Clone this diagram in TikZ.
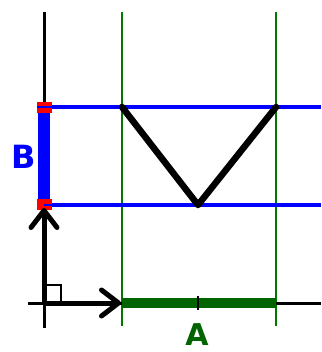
\documentclass[tikz,border=0pt]{standalone}
\usepackage{fontspec}
\setmainfont{DejaVu Sans}
\usetikzlibrary{arrows.meta}
\definecolor{darkgreen}{RGB}{0,100,0}
\definecolor{axisgreen}{RGB}{0,120,0}
\tikzset{
    vec/.style={line width=5pt, -{Straight Barb[length=17pt, width=26pt, line width=5pt, round]}},
    gridline/.style={line width=2.6pt, axisgreen},
    levelline/.style={line width=4.4pt, blue}
}
\begin{document}
\begin{tikzpicture}[x=1pt, y=-1pt]
        \useasboundingbox (0,0) rectangle (321,352);
        % Points
        \coordinate (O) at (44, 303);
        \coordinate (Ytop) at (44, 12);
        \coordinate (Ybot) at (44, 328);
        \coordinate (Xl) at (28, 303);
        \coordinate (Xr) at (321, 303);
        \coordinate (P) at (122, 107);
        \coordinate (Q) at (198, 205);
        \coordinate (R) at (276, 107);
        \coordinate (Bt) at (44, 107);
        \coordinate (Bb) at (44, 205);
        \coordinate (Ex) at (121, 303);
        \coordinate (Ey) at (44, 208);

        % Grid lines
        \draw[gridline] (122, 12) -- (122, 326);
        \draw[gridline] (276, 12) -- (276, 326);
        \draw[levelline] (Bt) -- (321, 107);
        \draw[levelline] (Bb) -- (321, 205);
        \draw[line width=3pt] (Ytop) -- (Ybot);
        \draw[line width=3pt] (Xl) -- (Xr);

        % Segments
        \draw[line width=10pt, darkgreen] (122, 303) -- (276, 303);
        \draw[line width=2.6pt] (198, 296) -- (198, 310);
        \draw[line width=12pt, blue] (Bt) -- (Bb);
        \fill[red] (37, 102) rectangle (52, 113);
        \fill[red] (37, 199) rectangle (52, 210);
        \draw[line width=2.6pt, blue] (37, 107) -- (52, 107);
        \draw[line width=2.6pt, blue] (44, 205) -- (52, 205);

        % V shape
        \draw[line width=6.5pt, line join=round, line cap=round] (P) -- (Q) -- (R);

        % Vectors
        \draw[vec] (O) -- (Ex);
        \draw[vec] (O) -- (Ey);
        \draw[line width=2.6pt] (46, 285) -- (61, 285) -- (61, 302);

        % Labels
        \node[text=blue, inner sep=0pt, font=\bfseries\fontsize{32}{32}\selectfont] (B) at (24, 157) {B};
        \node[text=darkgreen, inner sep=0pt, font=\bfseries\fontsize{30}{30}\selectfont] (A) at (197, 335) {A};
    \end{tikzpicture}
\end{document}
